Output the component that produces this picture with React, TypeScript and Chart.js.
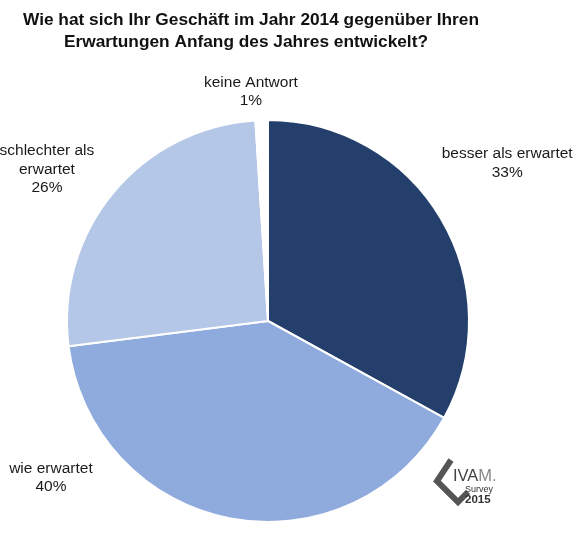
import React, { useEffect, useRef } from "react";
import { Chart, registerables } from "chart.js";

Chart.register(...registerables);

const categories = ["besser als erwartet", "wie erwartet", "schlechter als erwartet", "keine Antwort"];
const values = [33, 40, 26, 1];
const labelLines = [
  ["besser als erwartet", "33%"],
  ["wie erwartet", "40%"],
  ["schlechter als", "erwartet", "26%"],
  ["keine Antwort", "1%"],
];
const titleLines = [
  "Wie hat sich Ihr Geschäft im Jahr 2014 gegenüber Ihren",
  "Erwartungen Anfang des Jahres entwickelt?",
];
const colors = ["#243F6B", "#8FAADC", "#B4C7E7", "#FFFFFF"];
// label block centres relative to pie centre, in units of radius
const labelOffsets = [
  [1.19, -0.785],
  [-1.08, 0.78],
  [-1.1, -0.755],
  [-0.085, -1.14],
];

const FONT = "Arial, 'Liberation Sans', sans-serif";

const decorPlugin = {
  id: "decor",
  afterDraw(chart: any) {
    const ctx = chart.ctx;
    const meta = chart.getDatasetMeta(0);
    const arc0 = meta.data[0];
    const cx = arc0.x;
    const cy = arc0.y;
    const r = arc0.outerRadius;
    ctx.save();
    // title
    ctx.fillStyle = "#111";
    ctx.font = `bold 17.3px ${FONT}`;
    ctx.textAlign = "center";
    ctx.textBaseline = "middle";
    ctx.fillText(titleLines[0], 251, 20);
    ctx.fillText(titleLines[1], 246, 42);
    // labels
    ctx.font = `15.5px ${FONT}`;
    ctx.fillStyle = "#1a1a1a";
    const lh = 18.5;
    labelLines.forEach((lines, i) => {
      const bx = cx + labelOffsets[i][0] * r;
      const by = cy + labelOffsets[i][1] * r;
      const y0 = by - ((lines.length - 1) * lh) / 2;
      lines.forEach((t, j) => ctx.fillText(t, bx, y0 + j * lh));
    });
    // logo
    ctx.strokeStyle = "#555";
    ctx.lineWidth = 6;
    ctx.lineJoin = "miter";
    ctx.beginPath();
    ctx.moveTo(451, 460);
    ctx.lineTo(437, 481);
    ctx.lineTo(458, 502);
    ctx.lineTo(468, 492);
    ctx.stroke();
    ctx.textAlign = "left";
    ctx.textBaseline = "alphabetic";
    ctx.font = `16.5px ${FONT}`;
    ctx.fillStyle = "#444";
    ctx.fillText("IVA", 453, 481);
    const w = ctx.measureText("IVA").width;
    ctx.fillStyle = "#888";
    ctx.fillText("M.", 453 + w, 481);
    ctx.fillStyle = "#333";
    ctx.font = `9px ${FONT}`;
    ctx.fillText("Survey", 465, 492);
    ctx.font = `bold 11.5px ${FONT}`;
    ctx.fillText("2015", 465, 503);
    ctx.restore();
  },
};

export default function App() {
  const ref = useRef<HTMLCanvasElement>(null);
  useEffect(() => {
    const chart = new Chart(ref.current!, {
      type: "pie",
      data: {
        labels: categories,
        datasets: [
          {
            data: values,
            backgroundColor: colors,
            borderColor: "#FFFFFF",
            borderWidth: 2,
          },
        ],
      },
      options: {
        responsive: false,
        animation: false,
        rotation: 0,
        layout: { padding: { left: 66, right: 110, top: 119, bottom: 15 } },
        plugins: {
          legend: { display: false },
          tooltip: { enabled: false },
          title: { display: false },
        },
      },
      plugins: [decorPlugin],
    });
    return () => chart.destroy();
  }, []);
  return (
    <div style={{ position: "fixed", left: 0, top: 0, width: 580, height: 538, background: "#fff" }}>
      <canvas ref={ref} width={580} height={538} style={{ width: 580, height: 538 }} />
    </div>
  );
}
